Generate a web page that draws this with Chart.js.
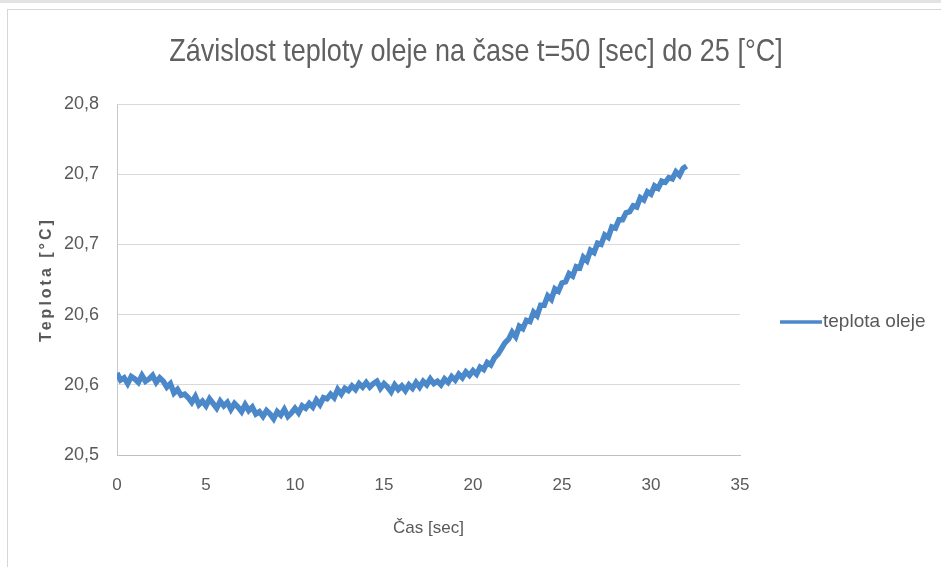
<!DOCTYPE html>
<html>
<head>
<meta charset="utf-8">
<title>Závislost teploty oleje na čase</title>
<script src="https://cdn.jsdelivr.net/npm/chart.js@4.4.1/dist/chart.umd.min.js"></script>
<style>
    html, body { margin: 0; padding: 0; background: #fff; }
    #wrap { position: relative; width: 941px; height: 567px; overflow: hidden; }
    #topStrip { position: absolute; left: 0; top: 0; width: 941px; height: 3px; background: #e3e3e3; }
    #frame { position: absolute; left: 7px; top: 9px; width: 960px; height: 600px; border-left: 1px solid #d6d6d6; border-top: 1px solid #d6d6d6; }
    canvas { position: absolute; left: 0; top: 0; }
</style>
</head>
<body>
<div id="wrap">
    <div id="topStrip"></div>
    <div id="frame"></div>
    <canvas id="oilChart" width="941" height="567"></canvas>
</div>
<script>
// texty grafu
var chartTitle = 'Závislost teploty oleje na čase t=50 [sec] do 25 [°C]';
var xAxisTitle = 'Čas [sec]';
var yAxisTitle = 'Teplota [°C]';
var seriesName = 'teplota oleje';

// osy
var xTickValues = [0, 5, 10, 15, 20, 25, 30, 35];
var yTickValues = [20.5, 20.56, 20.62, 20.68, 20.74, 20.8];
var yTickLabels = ['20,5', '20,6', '20,6', '20,7', '20,7', '20,8'];

// čas měření [sec]
var sampleTimes = [
    0, 0.2, 0.4, 0.6, 0.8, 1, 1.2, 1.4, 1.6, 1.8,
    2, 2.2, 2.4, 2.6, 2.8, 3, 3.2, 3.4, 3.6, 3.8,
    4, 4.2, 4.4, 4.6, 4.8, 5, 5.2, 5.4, 5.6, 5.8,
    6, 6.2, 6.4, 6.6, 6.8, 7, 7.2, 7.4, 7.6, 7.8,
    8, 8.2, 8.4, 8.6, 8.8, 9, 9.2, 9.4, 9.6, 9.8,
    10, 10.2, 10.4, 10.6, 10.8, 11, 11.2, 11.4, 11.6, 11.8,
    12, 12.2, 12.4, 12.6, 12.8, 13, 13.2, 13.4, 13.6, 13.8,
    14, 14.2, 14.4, 14.6, 14.8, 15, 15.2, 15.4, 15.6, 15.8,
    16, 16.2, 16.4, 16.6, 16.8, 17, 17.2, 17.4, 17.6, 17.8,
    18, 18.2, 18.4, 18.6, 18.8, 19, 19.2, 19.4, 19.6, 19.8,
    20, 20.2, 20.4, 20.6, 20.8, 21, 21.2, 21.4, 21.6, 21.8,
    22, 22.2, 22.4, 22.6, 22.8, 23, 23.2, 23.4, 23.6, 23.8,
    24, 24.2, 24.4, 24.6, 24.8, 25, 25.2, 25.4, 25.6, 25.8,
    26, 26.2, 26.4, 26.6, 26.8, 27, 27.2, 27.4, 27.6, 27.8,
    28, 28.2, 28.4, 28.6, 28.8, 29, 29.2, 29.4, 29.6, 29.8,
    30, 30.2, 30.4, 30.6, 30.8, 31, 31.2, 31.4, 31.6, 31.8,
    32
];

// teplota oleje [°C]
var oilTemps = [
    20.570, 20.564, 20.566, 20.561, 20.567, 20.565, 20.562, 20.568, 20.563, 20.565,
    20.568, 20.562, 20.566, 20.563, 20.558, 20.561, 20.553, 20.556, 20.551, 20.552,
    20.549, 20.545, 20.550, 20.543, 20.546, 20.542, 20.548, 20.544, 20.540, 20.546,
    20.542, 20.545, 20.539, 20.544, 20.541, 20.537, 20.543, 20.538, 20.541, 20.535,
    20.537, 20.533, 20.538, 20.535, 20.531, 20.537, 20.534, 20.539, 20.533, 20.536,
    20.540, 20.536, 20.542, 20.540, 20.544, 20.541, 20.547, 20.543, 20.549, 20.548,
    20.552, 20.549, 20.556, 20.552, 20.557, 20.555, 20.559, 20.556, 20.561, 20.558,
    20.562, 20.558, 20.561, 20.563, 20.557, 20.561, 20.558, 20.554, 20.560, 20.556,
    20.559, 20.555, 20.560, 20.557, 20.562, 20.558, 20.563, 20.560, 20.565, 20.561,
    20.563, 20.560, 20.565, 20.562, 20.567, 20.564, 20.569, 20.566, 20.571, 20.568,
    20.572, 20.569, 20.575, 20.573, 20.579, 20.577, 20.583, 20.586, 20.591, 20.596,
    20.599, 20.605, 20.601, 20.610, 20.608, 20.615, 20.614, 20.622, 20.619, 20.628,
    20.628, 20.636, 20.633, 20.642, 20.640, 20.647, 20.648, 20.655, 20.653, 20.661,
    20.660, 20.669, 20.666, 20.675, 20.673, 20.681, 20.680, 20.688, 20.686, 20.695,
    20.694, 20.701, 20.701, 20.707, 20.708, 20.713, 20.712, 20.720, 20.718, 20.725,
    20.723, 20.730, 20.728, 20.734, 20.733, 20.737, 20.736, 20.742, 20.739, 20.745,
    20.747
];

var LINE_COLOR = '#4a88ca';
var TEXT_COLOR = '#595959';
var FONT = '"Liberation Sans", Arial, sans-serif';

var points = sampleTimes.map(function(t, i) {
    return { x: t, y: oilTemps[i] };
});

/**
 * nadpis, popisky os a legenda
 */
var chartTextsPlugin = {
    id: 'chartTexts',
    afterDraw: function(chart) {
        var ctx = chart.ctx;
        var area = chart.chartArea;
        ctx.save();
        ctx.fillStyle = TEXT_COLOR;
        ctx.textAlign = 'center';
        ctx.textBaseline = 'middle';

        // nadpis (mírně vyšší písmo jako v Excelu)
        ctx.save();
        ctx.translate(476, 52);
        ctx.scale(1, 1.15);
        ctx.font = '27px ' + FONT;
        ctx.fillStyle = '#606060';
        ctx.fillText(chartTitle, 0, 0);
        ctx.restore();

        // popisek osy x
        ctx.font = '17px ' + FONT;
        ctx.fillText(xAxisTitle, (area.left + area.right) / 2, 528);

        // popisek osy y
        ctx.save();
        ctx.translate(47, (area.top + area.bottom) / 2);
        ctx.rotate(-Math.PI / 2);
        ctx.font = 'bold 16px ' + FONT;
        ctx.letterSpacing = '3px';
        ctx.fillText(yAxisTitle, 0, 0);
        ctx.restore();

        // legenda
        ctx.strokeStyle = LINE_COLOR;
        ctx.lineWidth = 3.5;
        ctx.beginPath();
        ctx.moveTo(780, 322);
        ctx.lineTo(822, 322);
        ctx.stroke();
        ctx.textAlign = 'left';
        ctx.font = '19px ' + FONT;
        ctx.fillText(seriesName, 823, 322);

        ctx.restore();
    }
};

new Chart(document.getElementById('oilChart'), {
    type: 'line',
    data: {
        datasets: [{
            label: seriesName,
            data: points,
            borderColor: LINE_COLOR,
            borderWidth: 5.5,
            borderJoinStyle: 'miter',
            pointRadius: 0,
            tension: 0,
            fill: false
        }]
    },
    options: {
        responsive: false,
        animation: false,
        devicePixelRatio: 1,
        layout: {
            padding: { left: 0, right: 201, top: 104, bottom: 0 }
        },
        plugins: {
            legend: { display: false },
            title: { display: false },
            tooltip: { enabled: false }
        },
        scales: {
            x: {
                type: 'linear',
                min: 0,
                max: 35,
                afterFit: function(scale) { scale.height = 112; },
                afterBuildTicks: function(scale) {
                    scale.ticks = xTickValues.map(function(v) { return { value: v }; });
                },
                ticks: {
                    color: TEXT_COLOR,
                    font: { family: FONT, size: 17 },
                    padding: 20,
                    maxRotation: 0
                },
                grid: { display: false, drawTicks: false },
                border: { display: true, color: '#bfbfbf', width: 1 }
            },
            y: {
                min: 20.5,
                max: 20.8,
                afterFit: function(scale) { scale.width = 117; },
                afterBuildTicks: function(scale) {
                    scale.ticks = yTickValues.map(function(v) { return { value: v }; });
                },
                ticks: {
                    color: TEXT_COLOR,
                    font: { family: FONT, size: 18 },
                    padding: 18,
                    callback: function(value, index) {
                        return yTickLabels[index];
                    }
                },
                grid: { color: '#d9d9d9', drawTicks: false },
                border: { display: true, color: '#c8c8c8', width: 1 }
            }
        }
    },
    plugins: [chartTextsPlugin]
});
</script>
</body>
</html>
